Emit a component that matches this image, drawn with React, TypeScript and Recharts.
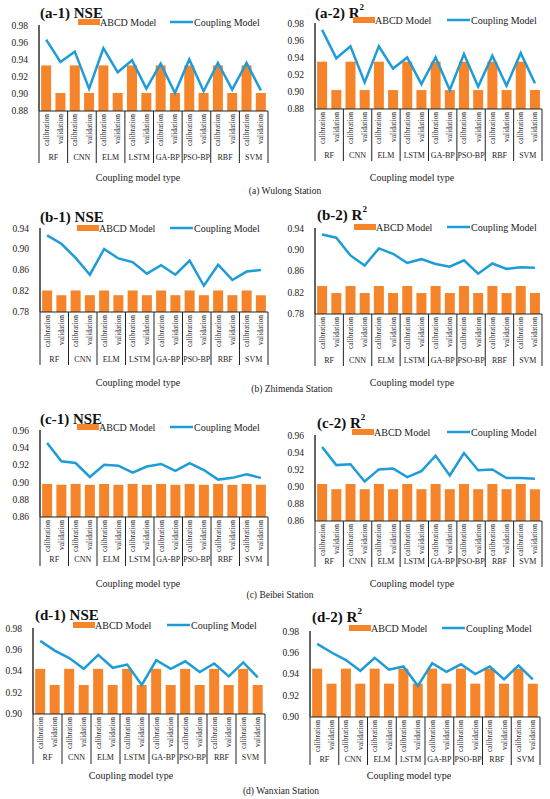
import React from 'react';
import { ComposedChart, Bar, Line, XAxis, YAxis } from 'recharts';

const FONT = '"Liberation Serif", "Times New Roman", serif';
const ORANGE = '#F5842A';
const BLUE = '#1E9CD7';

const groups = ['RF', 'CNN', 'ELM', 'LSTM', 'GA-BP', 'PSO-BP', 'RBF', 'SVM'];
const stages = ['calibration', 'validation'];

// Wulong
const a1Abcd = [0.933, 0.901, 0.933, 0.901, 0.933, 0.901, 0.933, 0.901, 0.933, 0.901, 0.933, 0.901, 0.933, 0.901, 0.933, 0.901];
const a1Coupling = [0.963, 0.937, 0.949, 0.906, 0.953, 0.925, 0.939, 0.906, 0.935, 0.901, 0.94, 0.903, 0.936, 0.905, 0.936, 0.904];
const a2Abcd = [0.935, 0.902, 0.935, 0.902, 0.935, 0.902, 0.935, 0.902, 0.935, 0.902, 0.935, 0.902, 0.935, 0.902, 0.935, 0.902];
const a2Coupling = [0.972, 0.939, 0.953, 0.911, 0.953, 0.927, 0.94, 0.909, 0.94, 0.902, 0.944, 0.906, 0.942, 0.907, 0.945, 0.91];

// Zhimenda
const b1Abcd = [0.821, 0.812, 0.821, 0.812, 0.821, 0.812, 0.821, 0.812, 0.821, 0.812, 0.821, 0.812, 0.821, 0.812, 0.821, 0.812];
const b1Coupling = [0.926, 0.91, 0.883, 0.851, 0.9, 0.882, 0.875, 0.853, 0.869, 0.851, 0.878, 0.83, 0.87, 0.841, 0.857, 0.86];
const b2Abcd = [0.832, 0.819, 0.832, 0.819, 0.832, 0.819, 0.832, 0.819, 0.832, 0.819, 0.832, 0.819, 0.832, 0.819, 0.832, 0.819];
const b2Coupling = [0.928, 0.922, 0.889, 0.87, 0.902, 0.892, 0.875, 0.882, 0.873, 0.868, 0.88, 0.855, 0.874, 0.864, 0.867, 0.866];

// Beibei
const c1Abcd = [0.898, 0.897, 0.898, 0.897, 0.898, 0.897, 0.898, 0.897, 0.898, 0.897, 0.898, 0.897, 0.898, 0.897, 0.898, 0.897];
const c1Coupling = [0.945, 0.924, 0.922, 0.906, 0.92, 0.919, 0.911, 0.918, 0.921, 0.913, 0.922, 0.914, 0.903, 0.905, 0.909, 0.905];
const c2Abcd = [0.903, 0.897, 0.903, 0.897, 0.903, 0.897, 0.903, 0.897, 0.903, 0.897, 0.903, 0.897, 0.903, 0.897, 0.903, 0.897];
const c2Coupling = [0.946, 0.925, 0.926, 0.906, 0.92, 0.921, 0.911, 0.918, 0.936, 0.913, 0.939, 0.919, 0.92, 0.91, 0.91, 0.909];

// Wanxian
const d1Abcd = [0.942, 0.927, 0.942, 0.927, 0.942, 0.927, 0.942, 0.927, 0.942, 0.927, 0.942, 0.927, 0.942, 0.927, 0.942, 0.927];
const d1Coupling = [0.968, 0.959, 0.952, 0.942, 0.955, 0.943, 0.946, 0.927, 0.95, 0.942, 0.949, 0.939, 0.947, 0.935, 0.948, 0.934];
const d2Abcd = [0.945, 0.931, 0.945, 0.931, 0.945, 0.931, 0.945, 0.931, 0.945, 0.931, 0.945, 0.931, 0.945, 0.931, 0.945, 0.931];
const d2Coupling = [0.968, 0.96, 0.953, 0.943, 0.955, 0.944, 0.947, 0.929, 0.95, 0.942, 0.949, 0.94, 0.947, 0.935, 0.948, 0.935];

const ticksA = [0.88, 0.9, 0.92, 0.94, 0.96, 0.98];
const ticksB = [0.78, 0.82, 0.86, 0.9, 0.94];
const ticksC = [0.86, 0.88, 0.9, 0.92, 0.94, 0.96];
const ticksD = [0.9, 0.92, 0.94, 0.96, 0.98];

const makeRows = (abcd: number[], coupling: number[]) =>
  abcd.map((v, i) => ({
    stage: stages[i % 2],
    group: groups[Math.floor(i / 2)],
    abcd: v,
    coupling: coupling[i],
  }));

const panels = [
  { id: '(a-1)', metric: 'NSE', abcd: a1Abcd, coupling: a1Coupling, ticks: ticksA, left: 0, plotLeft: 39, plotRight: 268, plotTop: 25, plotBottom: 111, labelH: 52, groupOff: 46, titleX: 40, titleY: 13, legendY: 22, rectX: 78, lineX: 170 },
  { id: '(a-2)', metric: 'R2', abcd: a2Abcd, coupling: a2Coupling, ticks: ticksA, left: 275, plotLeft: 315, plotRight: 542, plotTop: 23, plotBottom: 109, labelH: 52, groupOff: 46, titleX: 315, titleY: 13, legendY: 20, rectX: 353, lineX: 447 },
  { id: '(b-1)', metric: 'NSE', abcd: b1Abcd, coupling: b1Coupling, ticks: ticksB, left: 0, plotLeft: 40, plotRight: 268, plotTop: 228, plotBottom: 312, labelH: 53, groupOff: 47, titleX: 40, titleY: 217, legendY: 228, rectX: 77, lineX: 170 },
  { id: '(b-2)', metric: 'R2', abcd: b2Abcd, coupling: b2Coupling, ticks: ticksB, left: 275, plotLeft: 315, plotRight: 542, plotTop: 228, plotBottom: 314, labelH: 52, groupOff: 46, titleX: 317, titleY: 215, legendY: 227, rectX: 354, lineX: 447 },
  { id: '(c-1)', metric: 'NSE', abcd: c1Abcd, coupling: c1Coupling, ticks: ticksC, left: 0, plotLeft: 40, plotRight: 268, plotTop: 430, plotBottom: 517, labelH: 49, groupOff: 42, titleX: 40, titleY: 419, legendY: 427, rectX: 77, lineX: 170 },
  { id: '(c-2)', metric: 'R2', abcd: c2Abcd, coupling: c2Coupling, ticks: ticksC, left: 275, plotLeft: 315, plotRight: 542, plotTop: 435, plotBottom: 521, labelH: 46, groupOff: 40, titleX: 317, titleY: 423, legendY: 432, rectX: 352, lineX: 447 },
  { id: '(d-1)', metric: 'NSE', abcd: d1Abcd, coupling: d1Coupling, ticks: ticksD, left: 0, plotLeft: 33, plotRight: 265, plotTop: 628, plotBottom: 714, labelH: 50, groupOff: 43, titleX: 35, titleY: 615, legendY: 625, rectX: 73, lineX: 167 },
  { id: '(d-2)', metric: 'R2', abcd: d2Abcd, coupling: d2Coupling, ticks: ticksD, left: 275, plotLeft: 310, plotRight: 540, plotTop: 631, plotBottom: 717, labelH: 48, groupOff: 42, titleX: 312, titleY: 617, legendY: 628, rectX: 349, lineX: 442 },
];

const axisTitles = [
  { x: 138, y: 177 }, { x: 412, y: 177 },
  { x: 138, y: 382 }, { x: 412, y: 382 },
  { x: 138, y: 583 }, { x: 412, y: 583 },
  { x: 131, y: 775 }, { x: 409, y: 775 },
];

const captions = [
  { text: '(a) Wulong Station', x: 285, y: 191 },
  { text: '(b) Zhimenda Station', x: 292, y: 389 },
  { text: '(c) Beibei Station', x: 280, y: 595 },
  { text: '(d) Wanxian Station', x: 281, y: 791 },
];

function CatTick(props: any) {
  const { x, y, payload, step, groupOff, sepH } = props;
  const i = payload?.index ?? props.index;
  return (
    <g>
      <text
        transform={`translate(${x},${y + 3}) rotate(-90)`}
        textAnchor="end"
        dominantBaseline="central"
        fontSize={7.5}
        fontFamily={FONT}
        fill="#222"
      >
        {payload.value}
      </text>
      {i % 2 === 0 && (
        <text x={x + step / 2} y={y + groupOff} textAnchor="middle" dominantBaseline="central" fontSize={8} fontFamily={FONT} fill="#222">
          {groups[i / 2]}
        </text>
      )}
      {i % 2 === 0 && <line x1={x - step / 2} x2={x - step / 2} y1={y} y2={y + sepH} stroke="#222" strokeWidth={1} />}
      {i === 15 && <line x1={x + step / 2} x2={x + step / 2} y1={y} y2={y + sepH} stroke="#222" strokeWidth={1} />}
    </g>
  );
}

function Panel({ p }: { p: (typeof panels)[number] }) {
  const mTop = 4;
  const width = 275;
  const plotH = p.plotBottom - p.plotTop;
  const height = mTop + plotH + p.labelH;
  const step = (p.plotRight - p.plotLeft) / 16;
  const data = makeRows(p.abcd, p.coupling);
  return (
    <div style={{ position: 'absolute', left: p.left, top: p.plotTop - mTop }}>
      <ComposedChart
        width={width}
        height={height}
        data={data}
        margin={{ top: mTop, right: p.left + width - p.plotRight, left: 0, bottom: 0 }}
        barCategoryGap="15%"
      >
        <XAxis
          dataKey="stage"
          interval={0}
          height={p.labelH}
          tickSize={0}
          tickMargin={0}
          tickLine={false}
          axisLine={{ stroke: '#222', strokeWidth: 1.2 }}
          tick={(tp: any) => <CatTick {...tp} step={step} groupOff={p.groupOff} sepH={p.labelH} />}
        />
        <YAxis
          width={p.plotLeft - p.left}
          domain={[p.ticks[0], p.ticks[p.ticks.length - 1]]}
          ticks={p.ticks}
          allowDataOverflow
          tickLine={false}
          tickSize={0}
          tickMargin={11}
          tickFormatter={(v: number) => v.toFixed(2)}
          axisLine={{ stroke: '#222', strokeWidth: 1.4 }}
          tick={{ fontSize: 9.5, fontFamily: FONT, fill: '#222' }}
        />
        <Bar dataKey="abcd" fill={ORANGE} isAnimationActive={false} />
        <Line dataKey="coupling" type="linear" stroke={BLUE} strokeWidth={2.5} dot={false} isAnimationActive={false} />
      </ComposedChart>
    </div>
  );
}

export default function App() {
  return (
    <div style={{ position: 'absolute', left: 0, top: 0, width: 550, height: 799, background: '#fff', overflow: 'hidden' }}>
      {panels.map((p) => (
        <Panel key={p.id} p={p} />
      ))}
      <svg width={550} height={799} style={{ position: 'absolute', left: 0, top: 0, pointerEvents: 'none' }} fontFamily={FONT}>
        {panels.map((p) => (
          <g key={p.id}>
            <text x={p.titleX} y={p.titleY} dominantBaseline="central" fontSize={15} fontWeight="bold" fill="#111">
              {p.id} {p.metric === 'R2' ? 'R' : 'NSE'}
              {p.metric === 'R2' && (
                <tspan fontSize={9} dy={-6}>
                  2
                </tspan>
              )}
            </text>
            <rect x={p.rectX} y={p.legendY - 3} width={22} height={6} fill={ORANGE} />
            <text x={p.rectX + 22} y={p.legendY} dominantBaseline="central" fontSize={10} fill="#222">
              ABCD Model
            </text>
            <line x1={p.lineX} x2={p.lineX + 23} y1={p.legendY} y2={p.legendY} stroke={BLUE} strokeWidth={2.5} />
            <text x={p.lineX + 24} y={p.legendY} dominantBaseline="central" fontSize={10} fill="#222">
              Coupling Model
            </text>
          </g>
        ))}
        {axisTitles.map((t, i) => (
          <text key={i} x={t.x} y={t.y} textAnchor="middle" dominantBaseline="central" fontSize={10} fill="#222">
            Coupling model type
          </text>
        ))}
        {captions.map((c) => (
          <text key={c.text} x={c.x} y={c.y} textAnchor="middle" dominantBaseline="central" fontSize={9.5} fill="#222">
            {c.text}
          </text>
        ))}
      </svg>
    </div>
  );
}
